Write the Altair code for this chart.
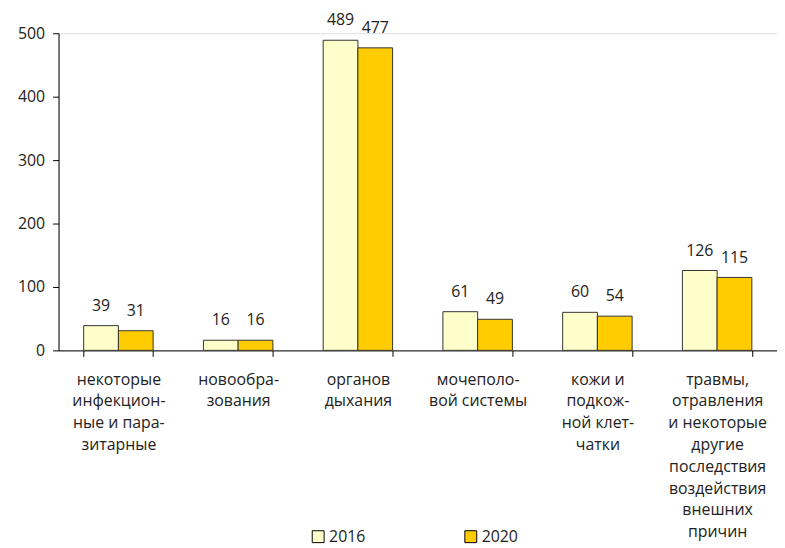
import altair as alt
import pandas as pd

categories = [
    "некоторые|инфекцион-|ные и пара-|зитарные",
    "новообра-|зования",
    "органов|дыхания",
    "мочеполо-|вой системы",
    "кожи и|подкож-|ной клет-|чатки",
    "травмы,|отравления|и некоторые|другие|последствия|воздействия|внешних|причин",
]
years = ["2016", "2020"]
values_2016 = [39, 16, 489, 61, 60, 126]
values_2020 = [31, 16, 477, 49, 54, 115]

rows = []
for c, a, b in zip(categories, values_2016, values_2020):
    rows.append({"cat": c, "year": "2016", "value": a})
    rows.append({"cat": c, "year": "2020", "value": b})
df = pd.DataFrame(rows)

FONT = "Open Sans"
TXT = "#222222"

x = alt.X("cat:N", sort=categories, title=None,
          scale=alt.Scale(paddingInner=0.42, paddingOuter=0.21),
          axis=alt.Axis(labelExpr="split(datum.label, '|')", labelAngle=0,
                        labelFontSize=16, labelLineHeight=22, labelFont=FONT,
                        labelColor=TXT, labelPadding=15, labelBaseline="top",
                        tickBand="extent", tickSize=6, tickColor="#000",
                        domainColor="#000", labelAlign="center"))
xo = alt.XOffset("year:N", sort=years, scale=alt.Scale(paddingInner=0, paddingOuter=0))
y = alt.Y("value:Q", title=None,
          scale=alt.Scale(domain=[0, 500]),
          axis=alt.Axis(values=[0, 100, 200, 300, 400, 500], grid=False,
                        labelFontSize=16, labelFont=FONT, labelColor=TXT,
                        tickSize=6, tickColor="#000", domainColor="#000",
                        labelPadding=8))

color = alt.Color("year:N", sort=years, title=None,
                  scale=alt.Scale(domain=years, range=["#FFFFCC", "#FFCC00"]),
                  legend=alt.Legend(orient="none", legendX=254, legendY=500,
                                    direction="horizontal", symbolType="square",
                                    symbolSize=144, symbolStrokeColor="#000",
                                    symbolStrokeWidth=1, labelFontSize=16,
                                    labelFont=FONT, labelColor=TXT,
                                    columnPadding=98, labelOffset=3))

bars = alt.Chart(df).mark_bar(stroke="#333333", strokeWidth=1).encode(
    x=x, xOffset=xo, y=y, color=color)

labels = alt.Chart(df).mark_text(baseline="bottom", dy=-12, fontSize=16,
                                  font=FONT, color=TXT).encode(
    x=alt.X("cat:N", sort=categories), xOffset=alt.XOffset("year:N", sort=years),
    y="value:Q", text="value:Q")

chart = (bars + labels).properties(
    width=725, height=320,
    autosize=alt.AutoSizeParams(type="none"),
    padding={"left": 51, "top": 23, "right": 0, "bottom": 206},
).configure_view(stroke=None).configure(background="white")

chart.save("out.html", embed_options={"renderer": "svg", "actions": False})
